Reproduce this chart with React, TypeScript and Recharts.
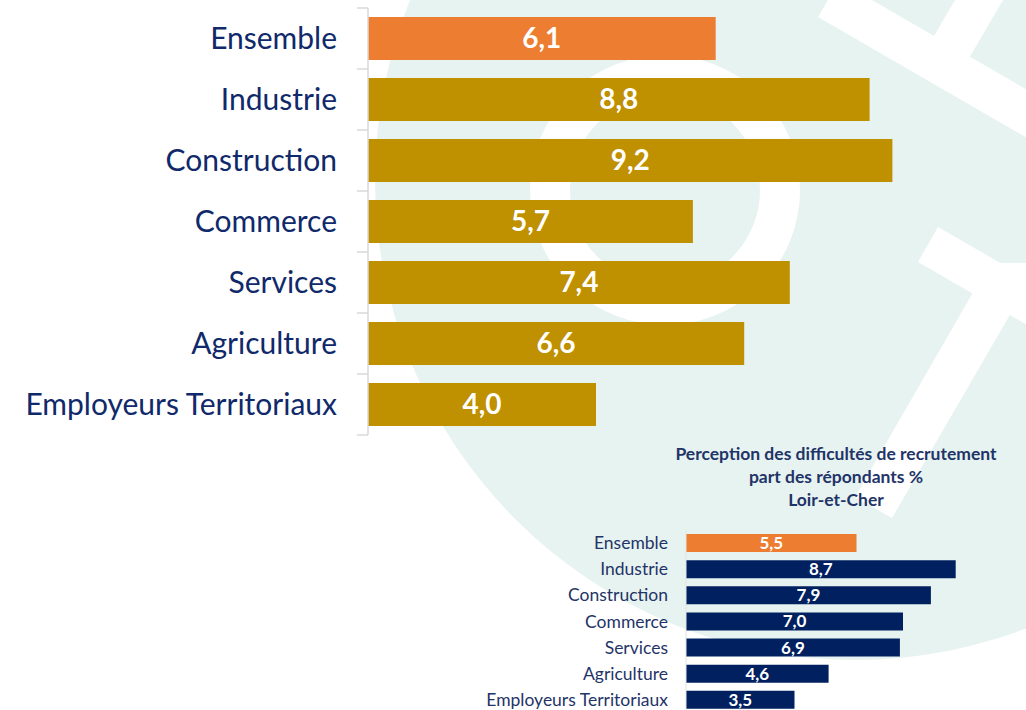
import { Bar, BarChart, Cell, LabelList, XAxis, YAxis } from "recharts";

const categories = [
  "Ensemble",
  "Industrie",
  "Construction",
  "Commerce",
  "Services",
  "Agriculture",
  "Employeurs Territoriaux",
];
const regionValues = [6.1, 8.8, 9.2, 5.7, 7.4, 6.6, 4.0];
const loirEtCherValues = [5.5, 8.7, 7.9, 7.0, 6.9, 4.6, 3.5];
const titleLines = [
  "Perception des difficultés de recrutement",
  "part des répondants %",
  "Loir-et-Cher",
];

const FONT = "Lato, 'Open Sans', sans-serif";
const NAVY_TEXT = "#10296a";
const ORANGE = "#ed7d31";
const GOLD = "#bf9000";
const NAVY_BAR = "#002060";

const fmt = (v: any) => Number(v).toFixed(1).replace(".", ",");

// big chart geometry
const BIG_AXIS_X = 368;
const BIG_BAND = 427 / categories.length;
// small chart geometry
const SMALL_AXIS_X = 686;

const bigData = categories.map((name, i) => ({ name, value: regionValues[i] }));
const smallData = categories.map((name, i) => ({ name, value: loirEtCherValues[i] }));

function BigTick(props: any) {
  const { y, payload, index } = props;
  const half = BIG_BAND / 2;
  return (
    <g>
      <text
        x={BIG_AXIS_X - 31}
        y={y}
        dy={10}
        textAnchor="end"
        fill={NAVY_TEXT}
        fontSize={30}
        fontFamily={FONT}
      >
        {payload.value}
      </text>
      <line x1={BIG_AXIS_X - 11} x2={BIG_AXIS_X} y1={y - half} y2={y - half} stroke="#d9d9d9" strokeWidth={1.5} />
      {index === categories.length - 1 && (
        <line x1={BIG_AXIS_X - 11} x2={BIG_AXIS_X} y1={y + half} y2={y + half} stroke="#d9d9d9" strokeWidth={1.5} />
      )}
    </g>
  );
}

function SmallTick(props: any) {
  const { y, payload } = props;
  return (
    <text
      x={SMALL_AXIS_X - 18}
      y={y}
      dy={6}
      textAnchor="end"
      fill="#1f3468"
      fontSize={17.5}
      fontFamily={FONT}
    >
      {payload.value}
    </text>
  );
}

function Backdrop() {
  return (
    <svg width={1026} height={710} style={{ position: "absolute", left: 0, top: 0 }}>
      <circle cx={855} cy={180} r={480} fill="#e7f3f0" />
      <circle cx={665} cy={190} r={115} fill="none" stroke="#fff" strokeWidth={40} />
      <polygon points="818,17 839,-19 1100,132 1079,168" fill="#fff" />
      <polygon points="920,60 962,-12 1010,-12 968,60" fill="#fff" />
      <polygon points="938,227 918,262 1100,367 1120,332" fill="#fff" />
      <polygon points="990,263 1040,263 892,518 855,497" fill="#fff" />
    </svg>
  );
}

export default function App() {
  return (
    <div
      style={{
        position: "absolute",
        left: 0,
        top: 0,
        width: 1026,
        height: 710,
        overflow: "hidden",
        background: "#fff",
        fontFamily: FONT,
      }}
    >
      <Backdrop />

      <div style={{ position: "absolute", left: 0, top: 0 }}>
        <BarChart
          width={1026}
          height={445}
          data={bigData}
          layout="vertical"
          margin={{ top: 8, right: 88, bottom: 10, left: 0 }}
          barCategoryGap={0}
        >
          <XAxis type="number" domain={[0, 10]} hide />
          <YAxis
            type="category"
            dataKey="name"
            width={BIG_AXIS_X}
            interval={0}
            tickLine={false}
            axisLine={{ stroke: "#d9d9d9", strokeWidth: 1.5 }}
            tick={<BigTick />}
          />
          <Bar dataKey="value" barSize={43} isAnimationActive={false}>
            {bigData.map((d, i) => (
              <Cell key={d.name} fill={i === 0 ? ORANGE : GOLD} />
            ))}
            <LabelList
              dataKey="value"
              position="center"
              formatter={fmt}
              fill="#fff"
              fontSize={28}
              fontWeight={700}
              fontFamily={FONT}
            />
          </Bar>
        </BarChart>
      </div>

      <div
        style={{
          position: "absolute",
          left: 586,
          top: 442,
          width: 500,
          textAlign: "center",
          color: "#1f3468",
          fontWeight: 700,
          fontSize: 17.5,
          lineHeight: "23px",
        }}
      >
        {titleLines.map((t) => (
          <div key={t}>{t}</div>
        ))}
      </div>

      <div style={{ position: "absolute", left: 0, top: 520 }}>
        <BarChart
          width={1026}
          height={200}
          data={smallData}
          layout="vertical"
          margin={{ top: 10, right: 30, bottom: 7, left: 0 }}
          barCategoryGap={0}
        >
          <XAxis type="number" domain={[0, 10]} hide />
          <YAxis
            type="category"
            dataKey="name"
            width={SMALL_AXIS_X}
            interval={0}
            tickLine={false}
            axisLine={{ stroke: "#e3e3e3" }}
            tick={<SmallTick />}
          />
          <Bar dataKey="value" barSize={18} isAnimationActive={false}>
            {smallData.map((d, i) => (
              <Cell key={d.name} fill={i === 0 ? ORANGE : NAVY_BAR} />
            ))}
            <LabelList
              dataKey="value"
              position="center"
              formatter={fmt}
              fill="#fff"
              fontSize={17}
              fontWeight={700}
              fontFamily={FONT}
            />
          </Bar>
        </BarChart>
      </div>
    </div>
  );
}
